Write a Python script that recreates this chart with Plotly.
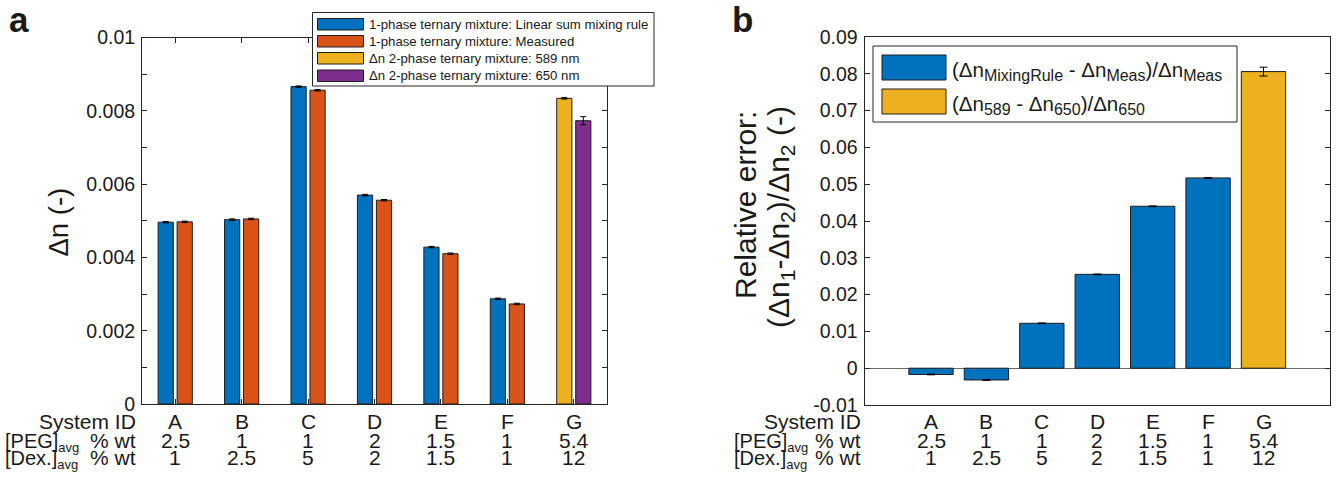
import plotly.graph_objects as go

# ---------------- data ----------------
systems = ["A", "B", "C", "D", "E", "F", "G"]
peg_wt = ["2.5", "1", "1", "2", "1.5", "1", "5.4"]
dex_wt = ["1", "2.5", "5", "2", "1.5", "1", "12"]

# panel a: birefringence (Δn)
one_phase_ids = ["A", "B", "C", "D", "E", "F"]
mixing_rule = [0.00496, 0.00503, 0.00866, 0.00570, 0.00428, 0.00287]
mixing_rule_err = [0.00002, 0.00002, 0.00002, 0.00002, 0.00002, 0.00002]
measured = [0.00497, 0.00505, 0.00856, 0.00556, 0.00410, 0.00273]
measured_err = [0.00002, 0.00002, 0.00002, 0.00002, 0.00002, 0.00002]
two_phase_ids = ["G"]
dn_589 = [0.00834]
dn_589_err = [0.00002]
dn_650 = [0.00773]
dn_650_err = [0.00011]

# panel b: relative error
rel_err_mix = [-0.0017, -0.0032, 0.0122, 0.0255, 0.0440, 0.0517]
rel_err_mix_err = [0.0001, 0.0001, 0.0001, 0.0001, 0.0001, 0.0001]
rel_err_wl = [0.0806]
rel_err_wl_err = [0.0012]

ticks_a = [0, 0.001, 0.002, 0.003, 0.004, 0.005, 0.006, 0.007, 0.008, 0.009, 0.01]
ticklabels_a = ["0", "", "0.002", "", "0.004", "", "0.006", "", "0.008", "", "0.01"]
ticks_b = [-0.01, 0, 0.01, 0.02, 0.03, 0.04, 0.05, 0.06, 0.07, 0.08, 0.09]
ticklabels_b = ["-0.01", "0", "0.01", "0.02", "0.03", "0.04", "0.05", "0.06", "0.07", "0.08", "0.09"]

SUB = "<sub><span style='font-size:%dpx'>%s</span></sub>"
legend_a = ["1-phase ternary mixture: Linear sum mixing rule",
            "1-phase ternary mixture: Measured",
            "Δn 2-phase ternary mixture: 589 nm",
            "Δn 2-phase ternary mixture: 650 nm"]
legend_b = ["(Δn" + SUB % (16, "MixingRule") + " - Δn" + SUB % (16, "Meas") + ")/Δn" + SUB % (16, "Meas"),
            "(Δn" + SUB % (16, "589") + " - Δn" + SUB % (16, "650") + ")/Δn" + SUB % (16, "650")]

# ---------------- styling ----------------
W, H = 1336, 482
def px(x):
    return x / W
def py(y):
    return 1 - y / H

FONT = "Liberation Sans, Arial, Helvetica, sans-serif"
TXT = "#1a1a1a"
AX = "#262626"
EDGE = "#1e1e1e"
BLUE, ORANGE, YELLOW, PURPLE = "#0072BD", "#D95319", "#EDB120", "#7E2F8E"

pos = {s: i + 1 for i, s in enumerate(systems)}
xa = [pos[s] for s in one_phase_ids]
xg = [pos[s] for s in two_phase_ids]

BW = 0.2286
OFF_L = -0.2571
OFF_R = 0.0286

def err(arr, w=3):
    return dict(type="data", array=arr, color="black", thickness=1, width=w)

fig = go.Figure()
fig.add_trace(go.Bar(x=xa, y=mixing_rule, width=BW, offset=OFF_L, name=legend_a[0],
                     marker=dict(color=BLUE, line=dict(color=EDGE, width=1)),
                     error_y=err(mixing_rule_err), xaxis="x", yaxis="y"))
fig.add_trace(go.Bar(x=xa, y=measured, width=BW, offset=OFF_R, name=legend_a[1],
                     marker=dict(color=ORANGE, line=dict(color=EDGE, width=1)),
                     error_y=err(measured_err), xaxis="x", yaxis="y"))
fig.add_trace(go.Bar(x=xg, y=dn_589, width=BW, offset=OFF_L, name=legend_a[2],
                     marker=dict(color=YELLOW, line=dict(color=EDGE, width=1)),
                     error_y=err(dn_589_err), xaxis="x", yaxis="y"))
fig.add_trace(go.Bar(x=xg, y=dn_650, width=BW, offset=OFF_R, name=legend_a[3],
                     marker=dict(color=PURPLE, line=dict(color=EDGE, width=1)),
                     error_y=err(dn_650_err), xaxis="x", yaxis="y"))

fig.add_trace(go.Bar(x=xa, y=rel_err_mix, width=0.8, name="mixing rule error",
                     marker=dict(color=BLUE, line=dict(color=EDGE, width=1)),
                     error_y=err(rel_err_mix_err, 4), xaxis="x2", yaxis="y2"))
fig.add_trace(go.Bar(x=xg, y=rel_err_wl, width=0.8, name="wavelength error",
                     marker=dict(color=YELLOW, line=dict(color=EDGE, width=1)),
                     error_y=err(rel_err_wl_err, 4), xaxis="x2", yaxis="y2"))

TICKFONT = dict(family=FONT, size=19.5, color=TXT)
common_x = dict(showgrid=False, zeroline=False, showticklabels=False, showline=True,
                linecolor=AX, linewidth=1, fixedrange=True, automargin=False)
common_y = dict(showgrid=False, showline=True, linecolor=AX, linewidth=1, ticks="inside",
                ticklen=5, tickcolor=AX, tickwidth=1, mirror="ticks", tickfont=TICKFONT,
                ticklabelstandoff=2, fixedrange=True, automargin=False)

fig.update_layout(
    width=W, height=H, autosize=False,
    margin=dict(l=0, r=0, t=0, b=0, pad=0, autoexpand=False),
    paper_bgcolor="white", plot_bgcolor="white",
    showlegend=False, barmode="overlay",
    font=dict(family=FONT, color=TXT),
    xaxis=dict(domain=[px(142), px(607)], range=[0.5, 7.5], tickvals=list(pos.values()),
               ticks="inside", ticklen=5, tickcolor=AX, mirror="ticks", anchor="y", **common_x),
    yaxis=dict(domain=[py(404), py(37.5)], range=[0, 0.01], tickvals=ticks_a,
               ticktext=ticklabels_a, zeroline=False, anchor="x", **common_y),
    xaxis2=dict(domain=[px(864.5), px(1330)], range=[-0.2, 8.2], ticks="", mirror=True,
                anchor="y2", **common_x),
    yaxis2=dict(domain=[py(405), py(37)], range=[-0.01, 0.09], tickvals=ticks_b,
                ticktext=ticklabels_b, zeroline=True, zerolinecolor="#6a6a6a",
                zerolinewidth=1, anchor="x2", **common_y),
)

ann = []
TF = 21

def text(x, y, s, size, xanchor="center", yanchor="middle", xref="paper", angle=0, bold=False):
    ann.append(dict(x=x, y=y, xref=xref, yref="paper", text=("<b>%s</b>" % s) if bold else s,
                    showarrow=False, xanchor=xanchor, yanchor=yanchor, textangle=angle,
                    font=dict(family=FONT, size=size, color=TXT), borderpad=0))

# panel letters
text(px(8), py(20), "a", 35, xanchor="left", bold=True)
text(px(731), py(20), "b", 35, xanchor="left", bold=True)

# axis titles
text(px(58), py(222.5), "Δn (-)", 27.5, angle=-90)
text(px(745), py(205), "Relative error:", 30, angle=-90)
text(px(781), py(217), "(Δn<sub>1</sub>-Δn<sub>2</sub>)/Δn<sub>2</sub> (-)", 30, angle=-90)

# tables under the axes
ROW1, ROW2, ROW3 = 421.5, 440, 457.8
SUBSHIFT = 2.0
for xr, right, left in (("x", 137.3, 4.0), ("x2", 861.7, 733.0)):
    text(px(right), py(ROW1), "System ID", TF, xanchor="right")
    text(px(left), py(ROW2 + SUBSHIFT), "[PEG]" + SUB % (13, "avg"), 20, xanchor="left")
    text(px(right), py(ROW2), "% wt", TF, xanchor="right")
    text(px(left), py(ROW3 + SUBSHIFT), "[Dex.]" + SUB % (13, "avg"), 20, xanchor="left")
    text(px(right), py(ROW3), "% wt", TF, xanchor="right")
    for s, p, d in zip(systems, peg_wt, dex_wt):
        text(pos[s], py(ROW1), s, TF, xref=xr)
        text(pos[s], py(ROW2), p, TF, xref=xr)
        text(pos[s], py(ROW3), d, TF, xref=xr)

# hand-drawn legends (wide swatches like the original)
shapes = []
def box(x0, y0, x1, y1, fill, line=AX):
    shapes.append(dict(type="rect", xref="paper", yref="paper", x0=px(x0), x1=px(x1),
                       y0=py(y1), y1=py(y0), fillcolor=fill, line=dict(color=line, width=1),
                       layer="above"))

box(312.5, 12.5, 654, 86, "white")
rows_a = [(18.5, 30), (35.5, 47), (52.5, 64), (70, 81.5)]
for (y0, y1), c, lab in zip(rows_a, [BLUE, ORANGE, YELLOW, PURPLE], legend_a):
    box(317.5, y0, 363.5, y1, c, EDGE)
    text(px(368), py((y0 + y1) / 2), lab, 13.2, xanchor="left")

box(873, 46, 1237, 122, "white")
rows_b = [(55, 80), (89, 114)]
for (y0, y1), c, lab in zip(rows_b, [BLUE, YELLOW], legend_b):
    box(882, y0, 946, y1, c, EDGE)
    text(px(951), py((y0 + y1) / 2 + 3), lab, 20.5, xanchor="left")

fig.update_layout(annotations=ann, shapes=shapes)
fig.write_html("out.html")
